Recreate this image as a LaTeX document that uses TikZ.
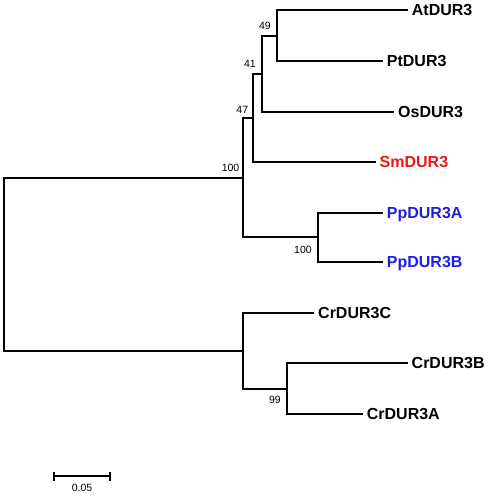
\documentclass[tikz,border=0pt]{standalone}
\usepackage{fontspec}
\setmainfont{Liberation Sans}
\definecolor{smred}{RGB}{235,22,22}
\definecolor{ppblue}{RGB}{30,30,230}
\begin{document}
\begin{tikzpicture}[x=1pt,y=-1pt,
  branch/.style={line width=2pt,line join=miter,line cap=rect},
  taxon/.style={anchor=base west,inner sep=0pt,font=\fontsize{16}{18}\selectfont\bfseries},
  boot/.style={inner sep=0pt,font=\fontsize{10.5}{12}\selectfont},
  scalebar/.style={line width=1.2pt}]
\useasboundingbox (0,0) rectangle (490,496);
% tips
\coordinate (tAt) at (407,10);
\coordinate (tPt) at (382,61);
\coordinate (tOs) at (393,112);
\coordinate (tSm) at (375,162);
\coordinate (tPpA) at (382,213);
\coordinate (tPpB) at (382,262);
\coordinate (tCrC) at (313,313);
\coordinate (tCrB) at (407,363);
\coordinate (tCrA) at (362,414);
% internal nodes
\coordinate (n49) at (277,36);
\coordinate (n41) at (262,74);
\coordinate (n47) at (253,118);
\coordinate (nPp) at (318,237);
\coordinate (n100) at (243,178);
\coordinate (nCr2) at (287,389);
\coordinate (nCr) at (243,351);
\coordinate (root) at (4,264);
% branches
\draw[branch] (tAt) -| (n49) |- (tPt);
\draw[branch] (n49) -| (n41) |- (tOs);
\draw[branch] (n41) -| (n47) |- (tSm);
\draw[branch] (tPpA) -| (nPp) |- (tPpB);
\draw[branch] (n47) -| (n100) |- (nPp);
\draw[branch] (tCrB) -| (nCr2) |- (tCrA);
\draw[branch] (tCrC) -| (nCr) |- (nCr2);
\draw[branch] (n100) -| (root) |- (nCr);
% taxon labels
\node[taxon] (lAt) at (411.7,15.8) {AtDUR3};
\node[taxon] (lPt) at (386.7,66.8) {PtDUR3};
\node[taxon] (lOs) at (398,117.8) {OsDUR3};
\node[taxon,text=smred] (lSm) at (379.5,167.8) {SmDUR3};
\node[taxon,text=ppblue] (lPpA) at (386.7,218.8) {PpDUR3A};
\node[taxon,text=ppblue] (lPpB) at (386.7,267.8) {PpDUR3B};
\node[taxon] (lCrC) at (318,318.8) {CrDUR3C};
\node[taxon] (lCrB) at (411.5,368.8) {CrDUR3B};
\node[taxon] (lCrA) at (366.7,419.8) {CrDUR3A};
% bootstrap values
\node[boot] (b49) at (265,25.7) {49};
\node[boot] (b41) at (250,64.3) {41};
\node[boot] (b47) at (242.3,110) {47};
\node[boot,anchor=east] (b100a) at (239.5,168.3) {100};
\node[boot] (b100b) at (303,250) {100};
\node[boot] (b99) at (275,400) {99};
% scale bar
\coordinate (sL) at (54,476);
\coordinate (sR) at (110,476);
\draw[scalebar] (sL) -- (sR);
\draw[scalebar] ([yshift=-4.5pt]sL) -- ([yshift=4.5pt]sL);
\draw[scalebar] ([yshift=-4.5pt]sR) -- ([yshift=4.5pt]sR);
\node[boot] (sLab) at (82,488) {0.05};
\end{tikzpicture}
\end{document}
